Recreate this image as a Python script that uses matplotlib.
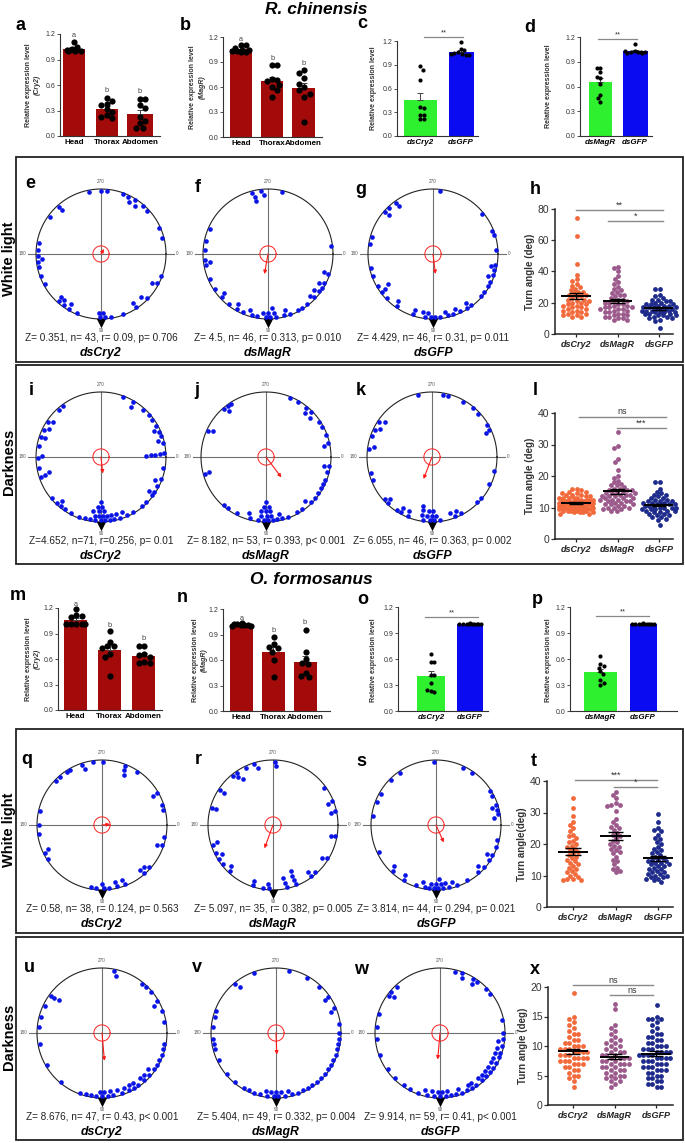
import numpy as np
import matplotlib
matplotlib.use("Agg")
import matplotlib.pyplot as plt
from matplotlib.patches import Rectangle

plt.rcParams['font.family'] = ['Liberation Sans', 'DejaVu Sans']

W, H = 685, 1143

# ---------------- data: expression bar charts ----------------
tissues = ["Head", "Thorax", "Abdomen"]
a_vals = [[1.10, 1.05, 1.02, 1.01, 1.00, 1.00, 1.01, 1.02, 1.00],
          [0.45, 0.41, 0.38, 0.36, 0.32, 0.28, 0.25, 0.21, 0.22],
          [0.44, 0.43, 0.36, 0.33, 0.22, 0.15, 0.10, 0.10, 0.18]]
b_vals = [[1.10, 1.10, 1.07, 1.02, 1.02, 1.03, 1.03, 1.04, 1.05],
          [0.87, 0.86, 0.70, 0.68, 0.60, 0.56, 0.48, 0.67, 0.62],
          [0.80, 0.77, 0.71, 0.60, 0.56, 0.48, 0.18, 0.64, 0.52]]
c_vals = [[0.88, 0.84, 0.71, 0.37, 0.35, 0.27, 0.21, 0.21, 0.26],
          [1.19, 1.10, 1.08, 1.06, 1.05, 1.03, 1.02, 1.02, 1.04]]
d_vals = [[0.83, 0.82, 0.77, 0.70, 0.63, 0.50, 0.46, 0.41, 0.72],
          [1.12, 1.03, 1.02, 1.02, 1.01, 1.01, 1.02, 1.03, 1.02]]
m_vals = [[1.19, 1.12, 1.10, 1.11, 1.01, 1.01, 1.01, 1.01, 1.01],
          [0.93, 0.80, 0.75, 0.75, 0.73, 0.66, 0.62, 0.40],
          [0.75, 0.75, 0.66, 0.65, 0.62, 0.56, 0.55, 0.55]]
n_vals = [[1.03, 1.02, 1.01, 1.00, 1.00, 1.01, 1.02, 1.01],
          [0.87, 0.79, 0.75, 0.74, 0.60, 0.40, 0.70],
          [0.95, 0.70, 0.61, 0.56, 0.45, 0.41, 0.40, 0.55]]
o_vals = [[0.66, 0.57, 0.56, 0.42, 0.41, 0.32, 0.23, 0.22, 0.24],
          [1.01, 1.00, 1.00, 1.00, 1.00, 1.00, 1.00, 1.00, 1.00, 1.00]]
p_vals = [[0.64, 0.54, 0.52, 0.50, 0.46, 0.43, 0.36, 0.30, 0.32],
          [1.01, 1.00, 1.00, 1.00, 1.00, 1.00, 1.00, 1.00, 1.00, 1.00]]

# ---------------- data: circular plots (angles in deg) ----------------
e_ang = [259, 270, 275, 290, 295, 298, 302, 305, 311, 317, 336, 345, 228, 229, 216, 190, 184, 178, 175, 173, 168,
         160, 152, 20, 27, 29, 132, 129, 126, 121, 120, 112, 91, 86, 81, 70, 56, 57, 47, 44, 92, 88, 133]
f_ang = [255, 257, 257, 264, 266, 283, 203, 192, 184, 175, 170, 172, 157, 147, 353, 18, 18, 27, 30, 32, 36, 38, 43,
         45, 52, 58, 62, 70, 73, 75, 83, 86, 139, 137, 128, 121, 119, 113, 108, 100, 90, 92, 95, 88, 105, 84]
g_ang = [276, 234, 235, 222, 221, 226, 196, 189, 321, 339, 343, 356, 167, 160, 150, 146, 144, 143, 136, 127, 125,
         10, 12, 15, 19, 22, 26, 30, 37, 41, 53, 56, 58, 65, 68, 76, 78, 108, 108, 100, 97, 95, 92, 88, 84, 72]
i_ang = [290, 300, 301, 312, 319, 324, 331, 334, 337, 341, 344, 347, 356, 357, 358, 359, 358, 233, 228, 216, 214,
         208, 205, 199, 198, 190, 181, 179, 170, 164, 162, 162, 140, 134, 132, 129, 125, 118, 98, 96, 92, 87, 84,
         82, 78, 73, 69, 66, 60, 35, 37, 33, 20, 23, 27, 90, 90, 92, 93, 88, 89, 95, 86, 100, 80, 75, 105, 110,
         50, 45, 10]
j_ang = [292, 309, 312, 315, 318, 327, 332, 340, 347, 349, 8, 237, 233, 229, 231, 206, 204, 165, 164, 9, 14, 21,
         29, 131, 127, 117, 107, 105, 97, 95, 92, 89, 86, 84, 77, 61, 48, 45, 40, 35, 90, 90, 88, 92, 87, 85, 80,
         75, 95, 70, 55, 25, 300]
k_ang = [257, 280, 285, 299, 310, 317, 330, 336, 335, 217, 214, 208, 205, 199, 190, 187, 165, 159, 13, 25, 138,
         135, 134, 123, 120, 119, 113, 112, 101, 100, 98, 93, 89, 86, 83, 72, 69, 66, 63, 90, 92, 95, 88, 100, 45, 40]
q_ang = [271, 262, 253, 252, 240, 236, 229, 224, 291, 292, 294, 303, 330, 331, 342, 346, 193, 180, 172, 156, 154,
         148, 11, 18, 20, 50, 49, 45, 42, 95, 84, 77, 76, 70, 69, 90, 88, 100]
r_ang = [272, 273, 255, 253, 245, 237, 234, 235, 231, 213, 213, 196, 196, 324, 338, 339, 348, 347, 11, 10, 34, 31,
         53, 53, 48, 69, 69, 69, 69, 79, 77, 78, 95, 94, 99, 109, 108, 163, 162, 154, 151, 148, 142, 136, 133]
s_ang = [268, 295, 305, 235, 225, 209, 201, 188, 328, 333, 342, 343, 346, 353, 14, 28, 30, 33, 41, 44, 48, 61, 71,
         74, 78, 81, 87, 96, 103, 108, 120, 122, 133, 136, 155, 88, 90, 92, 85, 95, 84, 100, 350, 20]
u_ang = [281, 284, 309, 314, 320, 330, 333, 216, 218, 216, 205, 10, 15, 20, 25, 30, 35, 38, 42, 45, 48, 50, 55, 58,
         60, 63, 65, 68, 72, 75, 80, 82, 85, 88, 90, 92, 95, 100, 105, 110, 130, 150, 170, 185, 195, 350, 340]
v_ang = [250, 230, 232, 282, 299, 313, 325, 326, 337, 339, 195, 200, 0, 5, 10, 15, 20, 25, 30, 35, 40, 45, 50, 55,
         60, 65, 70, 75, 78, 82, 85, 88, 90, 92, 95, 98, 100, 105, 110, 115, 120, 130, 140, 155, 165, 170, 175, 185, 352]
w_ang = [284, 290, 292, 301, 303, 306, 316, 322, 227, 220, 218, 216, 197, 348, 0, 5, 8, 12, 15, 18, 20, 22, 25, 28,
         30, 33, 35, 38, 40, 43, 45, 48, 50, 55, 58, 60, 62, 65, 70, 72, 75, 80, 83, 85, 88, 90, 92, 95, 98, 102,
         105, 110, 118, 125, 135, 145, 160, 175, 185]

# mean direction (deg) and mean vector length r
circ_mu = {"e": 300, "f": 100, "g": 83, "i": 84, "j": 53, "k": 111,
           "q": 355, "r": 110, "s": 66, "u": 85, "v": 88, "w": 95}
circ_r = {"e": 0.09, "f": 0.313, "g": 0.31, "i": 0.256, "j": 0.393, "k": 0.363,
          "q": 0.124, "r": 0.382, "s": 0.294, "u": 0.43, "v": 0.332, "w": 0.41}
circ_stats = {"e": "Z= 0.351, n= 43, r= 0.09, p= 0.706",
              "f": "Z= 4.5, n= 46, r= 0.313, p= 0.010",
              "g": "Z= 4.429, n= 46, r= 0.31, p= 0.011",
              "i": "Z=4.652, n=71, r=0.256, p= 0.01",
              "j": "Z= 8.182, n= 53, r= 0.393, p< 0.001",
              "k": "Z= 6.055, n= 46, r= 0.363, p= 0.002",
              "q": "Z= 0.58, n= 38, r= 0.124, p= 0.563",
              "r": "Z= 5.097, n= 35, r= 0.382, p= 0.005",
              "s": "Z= 3.814, n= 44, r= 0.294, p= 0.021",
              "u": "Z= 8.676, n= 47, r= 0.43, p< 0.001",
              "v": "Z= 5.404, n= 49, r= 0.332, p= 0.004",
              "w": "Z= 9.914, n= 59, r= 0.41, p< 0.001"}
treat = ["dsCry2", "dsMagR", "dsGFP"]

# ---------------- data: turn angles ----------------
h_cry = [74, 63, 45, 38, 35, 34, 32, 31, 30, 29, 28, 27, 27, 26, 25, 25, 24, 24, 23, 22, 22, 21, 21, 20, 20, 19, 19,
         18, 18, 17, 17, 16, 16, 15, 15, 14, 14, 13, 13, 12, 12, 11, 11]
h_mag = [43, 42, 40, 37, 35, 33, 32, 30, 29, 28, 27, 26, 25, 25, 24, 23, 22, 22, 21, 21, 20, 20, 19, 19, 18, 18, 17,
         17, 17, 16, 16, 16, 15, 15, 14, 14, 13, 13, 12, 12, 11, 11, 10, 10, 9, 9]
h_gfp = [29, 29, 25, 24, 23, 22, 22, 21, 21, 20, 20, 19, 19, 19, 18, 18, 18, 17, 17, 17, 17, 16, 16, 16, 16, 15, 15,
         15, 15, 14, 14, 14, 14, 13, 13, 13, 12, 12, 12, 11, 11, 10, 10, 9, 8, 4]
l_cry = [16, 16, 15.5, 15, 15, 14.5, 14, 14, 14, 13.5, 13.5, 13, 13, 13, 13, 12.5, 12.5, 12.5, 12, 12, 12, 12, 12,
         11.5, 11.5, 11.5, 11.5, 11.5, 11, 11, 11, 11, 11, 11, 10.5, 10.5, 10.5, 10.5, 10.5, 10, 10, 10, 10, 10, 10,
         9.5, 9.5, 9.5, 9.5, 9, 9, 9, 9, 8.5, 8.5, 8.5, 8, 8, 12, 12.5, 11, 10.5, 11.5, 12, 13, 9, 10, 11, 14.5, 8.5, 9.5]
l_mag = [34, 29.5, 29, 25.5, 24.5, 22, 20, 19.5, 18.5, 18, 17.5, 17, 17, 16.5, 16, 16, 15.5, 15.5, 15, 15, 14.5,
         14.5, 14, 14, 14, 13.5, 13.5, 13, 13, 13, 12.5, 12.5, 12, 12, 12, 11.5, 11.5, 11, 11, 11, 10.5, 10.5, 10,
         10, 10, 9.5, 9.5, 9, 9, 12.5, 13.5, 14.5, 15.5]
l_gfp = [18, 18, 16, 15, 14.5, 14, 14, 13.5, 13, 13, 12.5, 12.5, 12, 12, 12, 11.5, 11.5, 11.5, 11, 11, 11, 11, 10.5,
         10.5, 10.5, 10, 10, 10, 10, 9.5, 9.5, 9.5, 9, 9, 9, 8.5, 8.5, 8, 8, 7.5, 7.5, 7, 7, 6.5, 6, 4.5]
t_cry = [34.5, 31.5, 29, 27, 26, 25, 24, 23, 22.5, 22, 21, 20.5, 20, 19.5, 19, 18.5, 18, 17.5, 17, 16.5, 16, 15.5,
         15, 14.5, 14, 13.5, 13, 12.5, 12, 11.5, 11, 10.5, 10, 9.5, 9, 9, 8.5, 8.5]
t_mag = [36.5, 35.5, 34.5, 33, 32.5, 32.5, 32, 30.5, 28, 27, 26, 25.5, 25, 24.5, 23.5, 23, 22.5, 22, 21, 20.5, 20,
         19.5, 19, 18.5, 18, 17.5, 17, 16, 15, 14.5, 13.5, 12.5, 12, 11.5, 11]
t_gfp = [29.5, 27, 25, 24.5, 24, 23, 22, 21.5, 20.5, 20, 19, 18.5, 18, 17.5, 17, 16.5, 16, 15.5, 15, 15, 14.5, 14.5,
         14, 14, 13.5, 13.5, 13, 13, 12.5, 12, 12, 11.5, 11, 11, 10.5, 10.5, 10, 10, 9.5, 9.5, 9, 9, 8.5, 8]
x_cry = [19, 15, 14.5, 14, 13.5, 13, 12.5, 12, 12, 11.5, 11, 11, 10.5, 10.5, 10, 10, 10, 9.5, 9.5, 9.5, 9, 9, 9, 9,
         8.5, 8.5, 8.5, 8, 8, 8, 8, 7.5, 7.5, 7.5, 7, 7, 7, 6.5, 6.5, 6, 6, 5.5, 5, 5, 4.5, 4, 3]
x_mag = [17.2, 16.2, 13.5, 13, 12.5, 12, 11.5, 11, 11, 10.5, 10.5, 10, 10, 9.5, 9.5, 9, 9, 9, 8.5, 8.5, 8.5, 8, 8, 8,
         8, 7.5, 7.5, 7.5, 7, 7, 7, 7, 6.5, 6.5, 6.5, 6, 6, 6, 5.5, 5.5, 5, 5, 5, 4.5, 4.5, 4, 4, 3.5, 3]
x_gfp = [17, 15, 14.5, 14.5, 14.5, 14, 13.5, 13, 12.5, 12, 12, 11.5, 11.5, 11, 11, 10.5, 10.5, 10, 10, 10, 9.5, 9.5,
         9.5, 9, 9, 9, 9, 8.5, 8.5, 8.5, 8.5, 8, 8, 8, 8, 7.5, 7.5, 7.5, 7, 7, 7, 6.5, 6.5, 6.5, 6, 6, 6, 5.5, 5.5,
         5, 5, 4.5, 4.5, 4, 4, 3.5, 3.5, 3, 3]

RED = "#a30b0b"
GREEN = "#2ef02e"
BLUE = "#0b0bf2"
SW_COLS = ["#f26a3c", "#9c5a8c", "#1e2b8c"]

fig = plt.figure(figsize=(W / 100, H / 100), dpi=100)


def add_ax(x0, ytop, x1, ybot):
    return fig.add_axes([x0 / W, 1 - ybot / H, (x1 - x0) / W, (ybot - ytop) / H])


def ftext(x, y, s, **kw):
    return fig.text(x / W, 1 - y / H, s, **kw)


def beeswarm(vals, px_per_y, diam, maxw):
    # swarm inside +-maxw px; overlap allowed when no free spot is left
    cands = sorted(np.arange(-maxw, maxw + 0.01, diam * 0.35), key=abs)
    placed = []
    xs = []
    for v in vals:
        y = v * px_per_y
        best, bestd = 0.0, -1.0
        for off in cands:
            d = min([np.hypot(off - px, y - py) for px, py in placed] or [1e9])
            if d >= diam:
                best = off
                break
            if d > bestd:
                best, bestd = off, d
        placed.append((best, y))
        xs.append(best)
    return np.array(xs)


def style_axes(ax, lw=0.8, col="#333333"):
    for sp in ["top", "right"]:
        ax.spines[sp].set_visible(False)
    for sp in ["left", "bottom"]:
        ax.spines[sp].set_linewidth(lw)
        ax.spines[sp].set_color(col)


def bar_panel(x_axis, x_end, y_top, y_bot, centers, widths, groups, colors, labels, italic,
              letters=None, letter_y=None, sig=None, dot_s=20, diam=5.0):
    n = len(groups)
    unit = (centers[-1] - centers[0]) / (n - 1)
    ax = add_ax(x_axis, y_top, x_end, y_bot)
    ax.set_xlim(-(centers[0] - x_axis) / unit, (x_end - centers[0]) / unit)
    ax.set_ylim(0, 1.2)
    pos = np.arange(n)
    means = [np.mean(g) for g in groups]
    sems = [np.std(g, ddof=1) / np.sqrt(len(g)) for g in groups]
    ax.bar(pos, means, width=[w / unit for w in widths], color=colors, zorder=1)
    ax.errorbar(pos, means, yerr=[np.zeros(n), sems], fmt="none", ecolor="#444444",
                elinewidth=0.7, capsize=2.2, capthick=0.7, zorder=2)
    px_per_y = (y_bot - y_top) / 1.2
    for i, g in enumerate(groups):
        xs = beeswarm(g, px_per_y, diam, widths[i] * 0.42) / unit
        ax.scatter(i + xs, g, s=dot_s, color="black", linewidths=0, zorder=3, clip_on=False)
    style_axes(ax)
    ax.set_yticks([0, 0.3, 0.6, 0.9, 1.2])
    ax.set_yticklabels(["0.0", "0.3", "0.6", "0.9", "1.2"])
    ax.tick_params(axis="y", labelsize=5, length=2, width=0.6, pad=1, colors="#333333")
    ax.set_xticks(pos)
    ax.set_xticklabels(labels, fontsize=5.8, fontweight="bold", style="italic" if italic else "normal")
    ax.tick_params(axis="x", length=0, pad=2)
    if letters:
        for i, (lt, ly) in enumerate(zip(letters, letter_y)):
            ax.text(i, ly, lt, ha="center", va="bottom", fontsize=5.3, color="#444444")
    if sig:
        x0, x1, y, s = sig
        ax.plot([x0, x1], [y, y], color="#888888", lw=0.9, clip_on=False)
        ax.text((x0 + x1) / 2, y + 0.005, s, ha="center", va="bottom", fontsize=5.5, color="#333333")
    return ax


def circle_panel(cx, cy, angles, mu, rbar, R=65.0):
    half = 1.3 * R
    ax = add_ax(cx - half, cy - half, cx + half, cy + half)
    ax.set_xlim(-1.3, 1.3)
    ax.set_ylim(-1.3, 1.3)
    ax.axis("off")
    t = np.linspace(0, 2 * np.pi, 361)
    ax.plot([-1.12, 1.12], [0, 0], color="#707070", lw=0.8, zorder=1)
    ax.plot([0, 0], [-1, 1], color="#707070", lw=0.8, zorder=1)
    ax.plot(np.cos(t), np.sin(t), color="#222222", lw=0.8, zorder=2)
    ax.plot(0.125 * np.cos(t), 0.125 * np.sin(t), color="#ff2020", lw=0.7, zorder=3)
    ax.scatter([0], [-1.06], marker="v", s=46, color="black", linewidths=0, zorder=4)
    lab = dict(fontsize=3.3, color="#555555")
    ax.text(0, 1.07, "270", ha="center", va="bottom", **lab)
    ax.text(0, -1.14, "90", ha="center", va="top", **lab)
    ax.text(1.15, 0, "0", ha="left", va="center", **lab)
    ax.text(-1.15, 0, "180", ha="right", va="center", **lab)
    # dots on the circle, stacked inward when they overlap
    placed = []
    px, py = [], []
    for a in sorted(angles):
        level = 0
        while any(lv == level and abs((a - b + 180) % 360 - 180) < 3.2 for b, lv in placed):
            level += 1
        placed.append((a, level))
        rr = 0.975 - 0.07 * level
        th = np.deg2rad(a)
        px.append(rr * np.cos(th))
        py.append(-rr * np.sin(th))
    ax.scatter(px, py, s=11, color="#0a14e6", linewidths=0, zorder=5)
    th = np.deg2rad(mu)
    ax.annotate("", xy=(rbar * np.cos(th), -rbar * np.sin(th)), xytext=(0, 0),
                arrowprops=dict(arrowstyle="-|>", color="#ff1a1a", lw=0.8, mutation_scale=5,
                                shrinkA=0, shrinkB=0), zorder=6)
    return ax


def swarm_panel(x_axis, x_end, y_top, y_bot, ymax, ystep, centers, groups, ylab, sigs):
    unit = (centers[-1] - centers[0]) / 2
    ax = add_ax(x_axis, y_top, x_end, y_bot)
    ax.set_xlim(-(centers[0] - x_axis) / unit, (x_end - centers[0]) / unit)
    ax.set_ylim(0, ymax)
    px_per_y = (y_bot - y_top) / ymax
    for i, g in enumerate(groups):
        xs = beeswarm(g, px_per_y, 4.3, 0.42 * unit) / unit
        ax.scatter(i + xs, g, s=12, color=SW_COLS[i], linewidths=0, zorder=2, clip_on=False)
        m = np.mean(g)
        se = np.std(g, ddof=1) / np.sqrt(len(g))
        ax.hlines(m, i - 0.36, i + 0.36, color="black", lw=1.4, zorder=3)
        ax.vlines(i, m - se, m + se, color="black", lw=1.0, zorder=3)
        ax.hlines([m - se, m + se], i - 0.18, i + 0.18, color="black", lw=1.0, zorder=3)
    style_axes(ax, lw=1.1, col="#222222")
    ax.set_yticks(np.arange(0, ymax + 0.1, ystep))
    ax.tick_params(axis="y", labelsize=7.5, length=3, width=0.9, pad=1, colors="#333333")
    ax.set_xticks([0, 1, 2])
    ax.set_xticklabels(treat, fontsize=6.5, fontweight="bold", style="italic")
    ax.tick_params(axis="x", length=2.5, width=0.9, pad=2, colors="#222222")
    ax.set_ylabel(ylab, fontsize=7, fontweight="bold", color="#333333", labelpad=2)
    for x0, x1, y, s in sigs:
        ax.plot([x0, x1], [y, y], color="#888888", lw=1.0, clip_on=False)
        ax.text((x0 + x1) / 2, y + ymax * 0.005, s, ha="center", va="bottom", fontsize=6.5, color="#333333")
    return ax


# ---------------- titles ----------------
ftext(316, 10, "R. chinensis", ha="center", va="center", fontsize=12.5, fontweight="bold", style="italic")
ftext(311, 579, "O. formosanus", ha="center", va="center", fontsize=12.5, fontweight="bold", style="italic")

# ---------------- expression bars, top row ----------------
bar_panel(60, 160, 34, 136, [74, 108, 140], [22, 22, 26], a_vals, [RED] * 3, tissues, False,
          ["a", "b", "b"], [1.14, 0.49, 0.48])
bar_panel(223, 322, 37, 137, [241, 274, 303.5], [22, 22, 23], b_vals, [RED] * 3, tissues, False,
          ["a", "b", "b"], [1.13, 0.9, 0.84])
bar_panel(397, 478, 41, 136, [420, 461], [33, 25], c_vals, [GREEN, BLUE], ["dsCry2", "dsGFP"], True,
          sig=(0.1, 1.05, 1.25, "**"), dot_s=9, diam=3.6)
bar_panel(580, 652, 37, 136, [600, 635], [23, 25], d_vals, [GREEN, BLUE], ["dsMagR", "dsGFP"], True,
          sig=(-0.05, 1.05, 1.18, "**"), dot_s=9, diam=3.6)

ylab_kw = dict(rotation=90, ha="center", va="center", fontsize=5, fontweight="bold", color="#333333")
ftext(29, 85, "Relative expression level", **ylab_kw)
ftext(37, 85, "(Cry2)", style="italic", **ylab_kw)
ftext(193, 87, "Relative expression level", **ylab_kw)
ftext(202, 87, "(MagR)", style="italic", **ylab_kw)
ftext(374, 88, "Relative expression level", **ylab_kw)
ftext(548, 86, "Relative expression level", **ylab_kw)

# ---------------- expression bars, O. formosanus ----------------
bar_panel(58, 162, 608, 710, [75.5, 109.5, 143.5], [23, 23, 23], m_vals, [RED] * 3, tissues, False,
          ["a", "b", "b"], [1.2, 0.95, 0.8])
bar_panel(223, 330, 609, 711, [241.5, 275, 305], [23, 23, 23], n_vals, [RED] * 3, tissues, False,
          ["a", "b", "b"], [1.05, 0.9, 1.0])
bar_panel(398, 488, 607, 711, [431, 470], [28, 26], o_vals, [GREEN, BLUE], ["dsCry2", "dsGFP"], True,
          sig=(-0.15, 1.2, 1.085, "**"), dot_s=9, diam=3.6)
bar_panel(570, 677, 607, 711, [600, 643], [33, 27], p_vals, [GREEN, BLUE], ["dsMagR", "dsGFP"], True,
          sig=(-0.1, 1.15, 1.1, "**"), dot_s=9, diam=3.6)

ftext(29, 659, "Relative expression level", **ylab_kw)
ftext(37, 659, "(Cry2)", style="italic", **ylab_kw)
ftext(196, 660, "Relative expression level", **ylab_kw)
ftext(204, 660, "(MagR)", style="italic", **ylab_kw)
ftext(374, 660, "Relative expression level", **ylab_kw)
ftext(548, 660, "Relative expression level", **ylab_kw)

# ---------------- framed boxes ----------------
for y0, y1 in [(157, 362), (365, 564), (729, 933), (937, 1140)]:
    fig.patches.append(Rectangle((16 / W, 1 - y1 / H), (683 - 16) / W, (y1 - y0) / H,
                                 transform=fig.transFigure, fill=False, lw=1.3, ec="#222222"))
side_kw = dict(rotation=90, ha="center", va="center", fontsize=10.5, fontweight="bold")
ftext(9, 259, "White light", **side_kw)
ftext(9, 462, "Darkness", **side_kw)
ftext(9, 830, "White light", **side_kw)
ftext(9, 1037, "Darkness", **side_kw)

# ---------------- circular plots ----------------
circ_layout = [
    ("e", e_ang, 101, 254), ("f", f_ang, 268, 254), ("g", g_ang, 433, 254),
    ("i", i_ang, 101, 457), ("j", j_ang, 266, 457), ("k", k_ang, 432, 457),
    ("q", q_ang, 102, 825), ("r", r_ang, 273, 825), ("s", s_ang, 436, 825),
    ("u", u_ang, 102, 1033), ("v", v_ang, 276, 1033), ("w", w_ang, 440, 1033),
]
for idx, (key, ang, cx, cy) in enumerate(circ_layout):
    circle_panel(cx, cy, ang, circ_mu[key], circ_r[key])
    ftext(cx, cy + 84, circ_stats[key], ha="center", va="center", fontsize=7.2, color="#222222")
    ftext(cx, cy + 99, treat[idx % 3], ha="center", va="center", fontsize=8.8,
          fontweight="bold", style="italic")

# ---------------- turn angle panels ----------------
swarm_panel(555, 673, 209, 334, 80, 20, [576, 617, 659], [h_cry, h_mag, h_gfp], "Turn angle (deg)",
            [(0.0, 2.1, 79.4, "**"), (0.77, 2.1, 72.3, "*")])
swarm_panel(555, 673, 413, 539, 40, 10, [576, 617, 659], [l_cry, l_mag, l_gfp], "Turn angle (deg)",
            [(0.07, 2.17, 38.7, "ns"), (0.99, 2.17, 35.2, "***")])
swarm_panel(547, 673, 781, 907, 40, 10, [573, 614, 658], [t_cry, t_mag, t_gfp], "Turn angle(deg)",
            [(0.05, 1.98, 40.3, "***"), (0.96, 1.98, 38.1, "*")])
swarm_panel(548, 673, 987, 1105, 20, 5, [573, 614, 656], [x_cry, x_mag, x_gfp], "Turn angle (deg)",
            [(0.0, 1.93, 20.3, "ns"), (0.9, 1.93, 18.6, "ns")])

# ---------------- panel letters ----------------
letters = [("a", 21, 25), ("b", 185, 25), ("c", 362, 24), ("d", 530, 27),
           ("e", 30, 184), ("f", 198, 188), ("g", 361, 189), ("h", 535, 190),
           ("i", 31, 391), ("j", 197, 391), ("k", 361, 391), ("l", 535, 391),
           ("m", 18, 596), ("n", 182, 598), ("o", 363, 600), ("p", 537, 600),
           ("q", 27, 759), ("r", 198, 759), ("s", 361, 761), ("t", 534, 761),
           ("u", 29, 968), ("v", 197, 968), ("w", 361, 969), ("x", 535, 970)]
for s, x, y in letters:
    ftext(x, y, s, ha="center", va="center", fontsize=13, fontweight="bold")

fig.savefig("out.png", dpi=100)
